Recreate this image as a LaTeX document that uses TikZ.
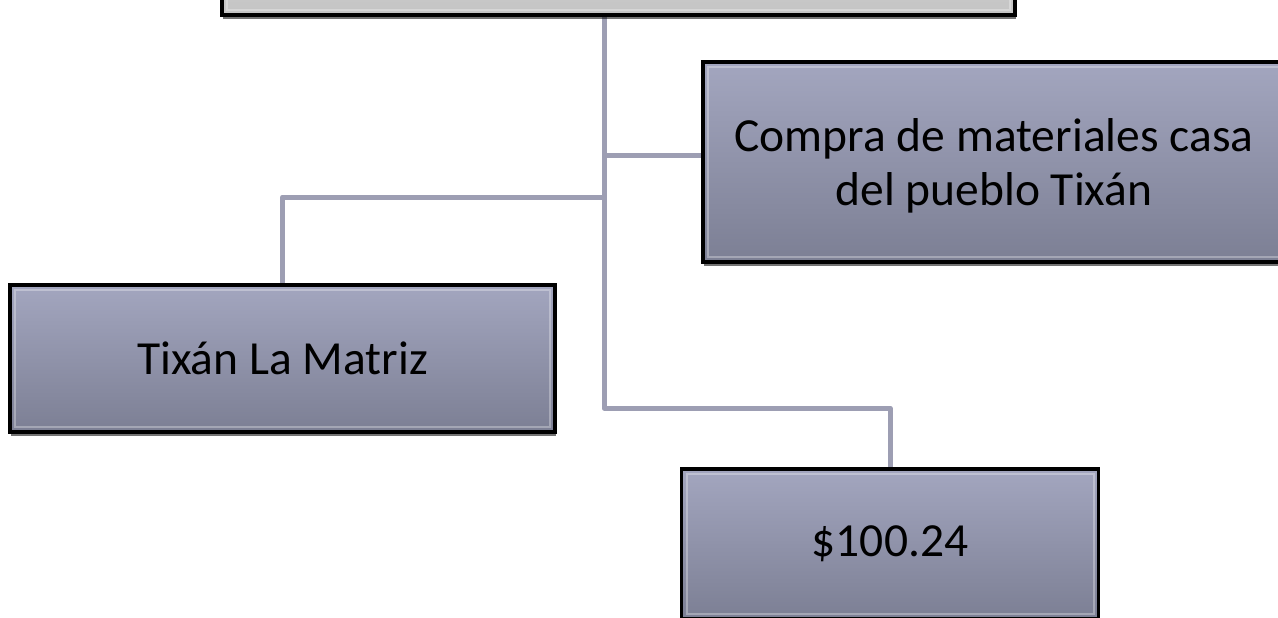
\documentclass[tikz,border=0pt]{standalone}
\usepackage{fontspec}
\setmainfont{Carlito}
\usetikzlibrary{positioning,shadows,backgrounds}
\definecolor{boxtop}{HTML}{A3A6BF}
\definecolor{boxbottom}{HTML}{7C7F94}
\definecolor{headtop}{HTML}{D6D6D6}
\definecolor{headbottom}{HTML}{C4C4C4}
\definecolor{linkgrey}{HTML}{9D9EB3}
\tikzset{
    unit/.style={rectangle,draw=black,line width=3.5pt,top color=boxtop,bottom color=boxbottom,
        drop shadow={shadow xshift=1pt,shadow yshift=-4pt,opacity=0.55,fill=black},
        path picture={\draw[white,opacity=0.3,line width=2pt]
            ([shift={(5pt,-5pt)}]path picture bounding box.north west) rectangle
            ([shift={(-5pt,5pt)}]path picture bounding box.south east);},
        font=\fontsize{47.5}{54}\selectfont,align=center,inner sep=0pt},
    head/.style={unit,top color=headtop,bottom color=headbottom},
    link/.style={-,draw=linkgrey,line width=5pt,line join=round}
}

\begin{document}
\begin{tikzpicture}[x=1pt,y=-1pt]

                \useasboundingbox (0,0) rectangle (1278,618);
                \clip (0,0) rectangle (1278,618);

                \node[head, minimum width=793pt, minimum height=95pt]  (head)   at (618.5,-32.5) {};
                \node[unit, minimum width=600pt, minimum height=200pt, text depth=-6pt] (compra) at (1003,162)
                    {\hspace*{-18pt}Compra de materiales casa\\\hspace*{-18pt}del pueblo Tixán};
                \node[unit, minimum width=545pt, minimum height=147pt] (matriz) at (282.5,358.5)
                    {Tixán La Matriz};
                \node[unit, minimum width=417pt, minimum height=150pt] (monto)  at (890,544)
                    {\$100.24};

                \coordinate (trunk end) at (604,408);
                \coordinate (left fork) at (604,197);

                % connectors behind the boxes
                \begin{scope}[on background layer]
                    \draw[link] (head.south -| trunk end) -- (trunk end) -| (monto.north);
                    \draw[link] ([yshift=7pt]compra.west) -- ([yshift=7pt]compra.west -| trunk end);
                    \draw[link] (matriz.north) |- (left fork);
                \end{scope}

\end{tikzpicture}
\end{document}
